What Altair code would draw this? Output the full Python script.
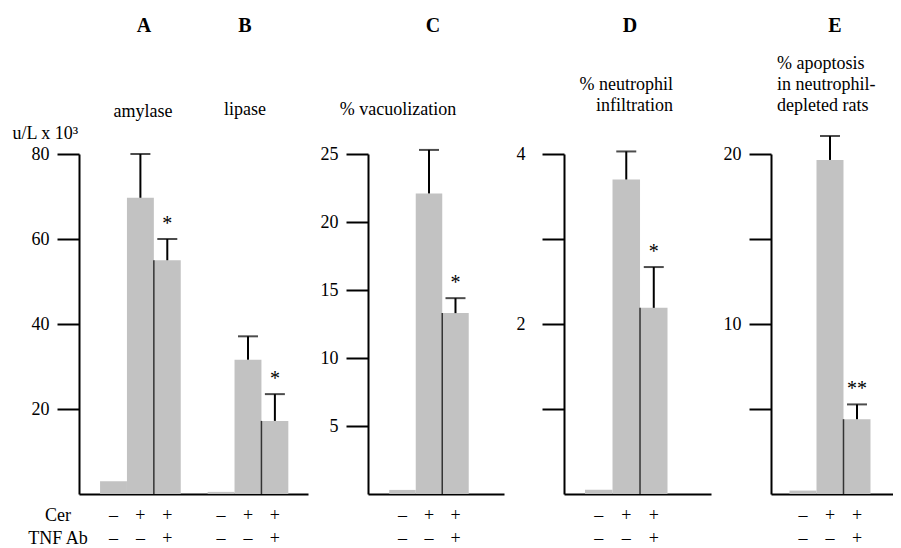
import altair as alt
import pandas as pd

FONT = "'Liberation Serif', 'Times New Roman', Times, 'DejaVu Serif', serif"
BAR = "#c2c2c2"
H = 340

# ---- shared treatment labels ----
cer_signs = ["–", "+", "+"]
tnf_signs = ["–", "–", "+"]
groups = ["ctrl", "Cer", "Cer+TNF Ab"]

# ---- panel A + B : amylase / lipase (u/L x 10^3) ----
ab_domain = ["amylase ctrl", "amylase Cer", "amylase Cer+TNF Ab", "gap",
             "lipase ctrl", "lipase Cer", "lipase Cer+TNF Ab"]
ab_bars = ["amylase ctrl", "amylase Cer", "amylase Cer+TNF Ab",
           "lipase ctrl", "lipase Cer", "lipase Cer+TNF Ab"]
ab_mean = [3.0, 69.7, 55.0, 0.5, 31.6, 17.2]
ab_upper = [None, 80.0, 60.0, None, 37.1, 23.5]
ab_star = ["", "", "*", "", "", "*"]
ab_ticks = [20, 40, 60, 80]

# ---- panel C : % vacuolization ----
c_mean = [0.3, 22.1, 13.3]
c_upper = [None, 25.3, 14.4]
c_star = ["", "", "*"]
c_ticks = [5, 10, 15, 20, 25]

# ---- panel D : % neutrophil infiltration ----
d_mean = [0.05, 3.70, 2.19]
d_upper = [None, 4.03, 2.67]
d_star = ["", "", "*"]
d_ticks = [1, 2, 3, 4]

# ---- panel E : % apoptosis in neutrophil-depleted rats ----
e_mean = [0.2, 19.65, 4.4]
e_upper = [None, 21.06, 5.27]
e_star = ["", "", "**"]
e_ticks = [5, 10, 15, 20]

letters = ["A", "B", "C", "D", "E"]
sub_a = "amylase"
sub_b = "lipase"
sub_c = "% vacuolization"
sub_d = ["% neutrophil", "infiltration"]
sub_e = ["% apoptosis", "in neutrophil-", "depleted rats"]
row_labels = ["Cer", "TNF Ab"]
unit_title = "u/L x 10³"

ONE = alt.Data(values=[{}])


def txt(text, x, y, size=18, weight="normal", align="center", baseline="alphabetic", lh=21):
    return alt.Chart(ONE).mark_text(
        text=text, font=FONT, fontSize=size, fontWeight=weight, align=align,
        baseline=baseline, color="black", lineHeight=lh
    ).encode(x=alt.value(x), y=alt.value(y))


def panel(domain, bars, means, uppers, stars, cers, tnfs, ymax, yticks, width,
          po, align, label_expr="datum.label", label_pad=8, ytitle=None, notes=()):
    df = pd.DataFrame({"slot": bars, "mean": means, "upper": uppers,
                       "star": stars, "cer": cers, "tnf": tnfs})
    xscale = alt.Scale(domain=domain, paddingInner=0, paddingOuter=po, align=align)
    xaxis = alt.Axis(labels=False, ticks=False, title=None, domain=True,
                     domainColor="black", domainWidth=2)
    yscale = alt.Scale(domain=[0, ymax], nice=False, zero=True)
    yaxis_kw = dict(values=yticks, labelExpr=label_expr, labelPadding=label_pad,
                    tickSize=22, tickWidth=2, tickColor="black", domainColor="black",
                    domainWidth=2, labelFont=FONT, labelFontSize=18, labelColor="black",
                    grid=False)
    if ytitle:
        yaxis_kw.update(title=ytitle, titleAngle=0, titleX=-67, titleY=-21,
                        titleAlign="left", titleBaseline="middle", titleFont=FONT,
                        titleFontSize=18, titleFontWeight="normal", titleColor="black")
    else:
        yaxis_kw.update(title=None)
    yaxis = alt.Axis(**yaxis_kw)

    def X(**kw):
        return alt.X("slot:N", scale=xscale, axis=xaxis, **kw)

    def Y(f):
        return alt.Y(f + ":Q", scale=yscale, axis=yaxis)

    base = alt.Chart(df)
    bars_l = base.mark_bar(color=BAR).encode(x=X(), y=Y("mean"))
    edge = base.transform_filter("datum.tnf == '+'").mark_rule(
        color="#333333", strokeWidth=1.5
    ).encode(x=X(bandPosition=0), y=Y("mean"), y2=alt.datum(0))
    stem = base.transform_filter("isValid(datum.upper)").mark_rule(
        color="black", strokeWidth=2
    ).encode(x=X(), y=Y("mean"), y2="upper:Q")
    cap = base.transform_filter("isValid(datum.upper)").mark_tick(
        color="black", thickness=2, size=20, orient="horizontal"
    ).encode(x=X(), y=Y("upper"))
    star = base.transform_filter("isValid(datum.upper)").mark_text(
        font=FONT, fontSize=20, color="black", dy=-9, baseline="alphabetic"
    ).encode(x=X(), y=Y("upper"), text="star:N")
    row1 = base.mark_text(font=FONT, fontSize=18, color="black", baseline="middle").encode(
        x=X(), y=alt.value(H + 22), text="cer:N")
    row2 = base.mark_text(font=FONT, fontSize=18, color="black", baseline="middle").encode(
        x=X(), y=alt.value(H + 45), text="tnf:N")
    layers = [bars_l, edge, stem, cap, star, row1, row2] + list(notes)
    return alt.layer(*layers).properties(width=width, height=H)


pA = panel(ab_domain, ab_bars, ab_mean, ab_upper, ab_star, cer_signs * 2, tnf_signs * 2,
           80, ab_ticks, 229, 0.757, 0.517, ytitle=unit_title,
           notes=[txt(letters[0], 65, -122, 20, "bold"),
                  txt(letters[1], 166, -122, 20, "bold"),
                  txt(sub_a, 64, -37), txt(sub_b, 166, -39),
                  txt(row_labels[0], -21, H + 22, baseline="middle"),
                  txt(row_labels[1], -21, H + 45, baseline="middle")])

pC = panel(groups + ["pad"], groups, c_mean, c_upper, c_star, cer_signs, tnf_signs,
           25, c_ticks, 136, 0.566, 0.708,
           notes=[txt(letters[2], 65, -122, 20, "bold"), txt(sub_c, 30, -39)])

pD = panel(groups + ["pad"], groups, d_mean, d_upper, d_star, cer_signs, tnf_signs,
           4, d_ticks, 147, 0.673, 0.568,
           label_expr="datum.value % 2 == 0 ? datum.label : ''", label_pad=17,
           notes=[txt(letters[3], 66, -122, 20, "bold"),
                  txt(sub_d, 109, -64, align="right")])

pE = panel(groups, groups, e_mean, e_upper, e_star, cer_signs, tnf_signs,
           20, e_ticks, 122, 0.759, 0.451,
           label_expr="datum.value % 10 == 0 ? datum.label : ''", label_pad=8,
           notes=[txt(letters[4], 64, -122, 20, "bold"),
                  txt(sub_e, 6, -85, align="left")])

chart = alt.hconcat(pA, pC, pD, pE, spacing=60, bounds="flush").properties(
    padding={"left": 4, "top": 8, "right": 0, "bottom": 0}
).configure_view(strokeWidth=0)

chart.save("out.html", embed_options={"renderer": "svg", "actions": False})
